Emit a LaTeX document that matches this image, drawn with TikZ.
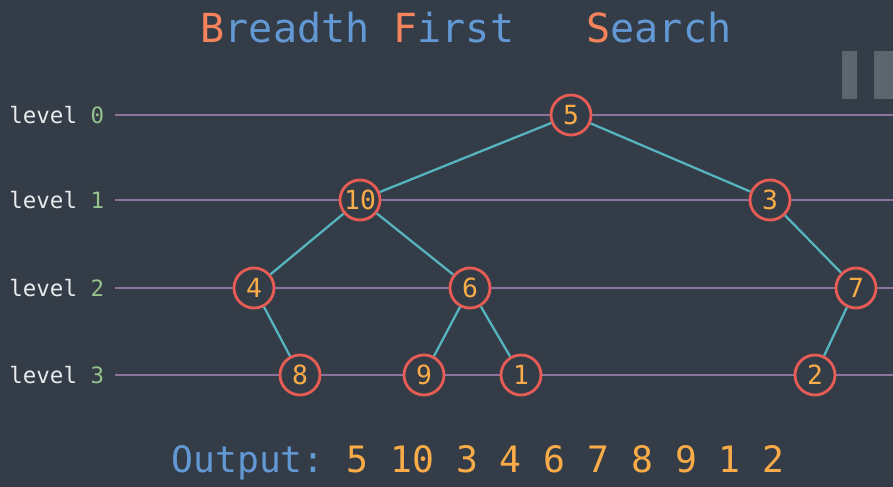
\documentclass[tikz,border=0pt]{standalone}
\usepackage{fontspec}
\setmonofont{DejaVu Sans Mono}
\usepackage{tikz}
\usetikzlibrary{shapes,arrows}
\definecolor{bg}{RGB}{52,61,71}
\definecolor{ringred}{RGB}{232,92,86}
\definecolor{numorange}{RGB}{250,172,72}
\definecolor{titleorange}{RGB}{245,132,92}
\definecolor{titleblue}{RGB}{98,152,212}
\definecolor{edgeteal}{RGB}{86,180,190}
\definecolor{linepurple}{RGB}{142,116,156}
\definecolor{lvlgreen}{RGB}{150,194,140}
\definecolor{lvlwhite}{RGB}{232,234,236}
\definecolor{pausegrey}{RGB}{92,102,110}
\tikzstyle{vertex} = [circle, draw=ringred, line width=1.6pt, fill=bg, minimum size=0.8cm, inner sep=0pt, text=numorange, font=\ttfamily\fontsize{15}{15}\selectfont]
\tikzstyle{edge} = [draw=edgeteal, line width=1.3pt]
\tikzstyle{levelline} = [draw=linepurple, line width=1.4pt]
\tikzstyle{lvl} = [anchor=west, inner sep=0pt, text=lvlwhite, font=\ttfamily\fontsize{12.8}{12.8}\selectfont]

\begin{document}
\begin{tikzpicture}[x=0.02cm, y=-0.02cm]
        \fill[bg] (0,0) rectangle (893,487);
        \useasboundingbox (0,0) rectangle (893,487);
        
        \node (title) at (466,28) [font=\ttfamily\fontsize{22.8}{22.8}\selectfont, text=titleblue] {\textcolor{titleorange}{B}readth \textcolor{titleorange}{F}irst\ \ \ \textcolor{titleorange}{S}earch};
        
        \fill[pausegrey] (842,51) rectangle (857,99);
        \fill[pausegrey] (874,51) rectangle (893,99);
        
        \node (l0) at (9,115) [lvl] {level \textcolor{lvlgreen}{0}};
        \node (l1) at (9,200) [lvl] {level \textcolor{lvlgreen}{1}};
        \node (l2) at (9,288) [lvl] {level \textcolor{lvlgreen}{2}};
        \node (l3) at (9,375) [lvl] {level \textcolor{lvlgreen}{3}};
        
        \coordinate (s0) at (115,115);
        \coordinate (s1) at (115,200);
        \coordinate (s2) at (115,288);
        \coordinate (s3) at (115,375);
        \coordinate (e0) at (893,115);
        \coordinate (e1) at (893,200);
        \coordinate (e2) at (893,288);
        \coordinate (e3) at (893,375);
        
        \draw[levelline] (s0) -- (e0);
        \draw[levelline] (s1) -- (e1);
        \draw[levelline] (s2) -- (e2);
        \draw[levelline] (s3) -- (e3);
        
        \node (n5) at (571,115) [vertex] {5};
        \node (n10) at (360,200) [vertex] {10};
        \node (n3) at (770,200) [vertex] {3};
        \node (n4) at (254,288) [vertex] {4};
        \node (n6) at (470,288) [vertex] {6};
        \node (n7) at (856,288) [vertex] {7};
        \node (n8) at (300,375) [vertex] {8};
        \node (n9) at (424,375) [vertex] {9};
        \node (n1) at (521,375) [vertex] {1};
        \node (n2) at (815,375) [vertex] {2};
        
        \draw[edge] (n5) -- (n10);
        \draw[edge] (n5) -- (n3);
        \draw[edge] (n10) -- (n4);
        \draw[edge] (n10) -- (n6);
        \draw[edge] (n3) -- (n7);
        \draw[edge] (n4) -- (n8);
        \draw[edge] (n6) -- (n9);
        \draw[edge] (n6) -- (n1);
        \draw[edge] (n7) -- (n2);
        
        \node (out) at (478,463) [font=\ttfamily\fontsize{20.7}{20.7}\selectfont, text=titleblue] {Output: \textcolor{numorange}{5 10 3 4 6 7 8 9 1 2}};
        
    \end{tikzpicture}
\end{document}
